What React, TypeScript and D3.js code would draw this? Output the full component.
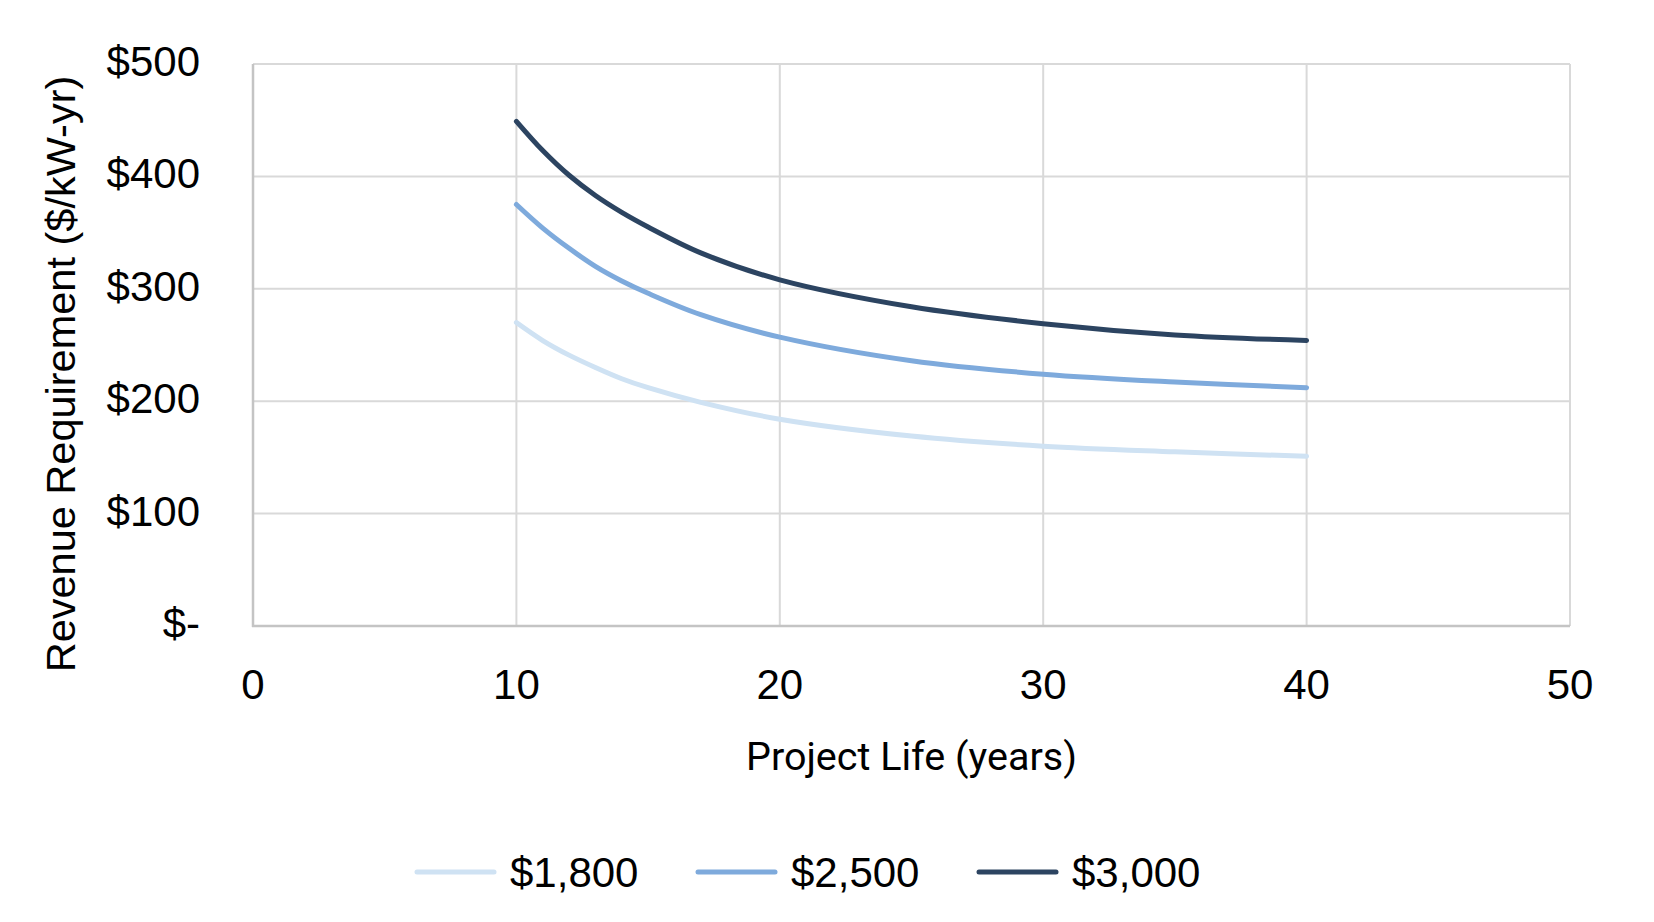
import React, { useEffect, useRef } from 'react';
import * as d3 from 'd3';

// project life in years (x values of the read points)
const years = [10, 11, 12, 13, 14, 15, 17, 20, 25, 30, 35, 40];

// revenue requirement ($/kW-yr) per capital cost case
const rev1800 = [270, 254, 241, 230, 220, 212, 199, 184, 169, 160, 155, 151];
const rev2500 = [375, 354, 336, 320, 307, 296, 277, 257, 236, 224, 217, 212];
const rev3000 = [449, 423, 401, 383, 368, 355, 332, 308, 284, 269, 259, 254];

const seriesNames = ['$1,800', '$2,500', '$3,000'];
const seriesColors = ['#cfe2f3', '#7eaadc', '#2c4461'];

const xTicks = [0, 10, 20, 30, 40, 50];
const yTicks = [0, 100, 200, 300, 400, 500];

const App: React.FC = () => {
  const svgRef = useRef<SVGSVGElement>(null);

  useEffect(() => {
    if (!svgRef.current) return;

    const width = 1654;
    const height = 922;
    const margin = { top: 64, right: 84, bottom: 296, left: 253 };
    const armFont = '"Liberation Sans", Arial, sans-serif';

    const svg = d3.select(svgRef.current)
      .attr('width', width)
      .attr('height', height);
    svg.selectAll('*').remove();

    svg.append('rect').attr('width', width).attr('height', height).attr('fill', '#fff');

    const x = d3.scaleLinear()
      .domain([0, 50])
      .range([margin.left, width - margin.right]);
    const y = d3.scaleLinear()
      .domain([0, 500])
      .range([height - margin.bottom, margin.top]);

    // gridlines
    const grid = svg.append('g').attr('stroke', '#d9d9d9').attr('stroke-width', 2);
    grid.selectAll('line.h')
      .data(yTicks)
      .join('line')
        .attr('class', 'h')
        .attr('x1', x(0)).attr('x2', x(50))
        .attr('y1', d => y(d)).attr('y2', d => y(d));
    grid.selectAll('line.v')
      .data(xTicks)
      .join('line')
        .attr('class', 'v')
        .attr('y1', y(0)).attr('y2', y(500))
        .attr('x1', d => x(d)).attr('x2', d => x(d));

    // axis lines
    svg.append('line')
      .attr('x1', x(0)).attr('x2', x(0)).attr('y1', y(0) + 1).attr('y2', y(500))
      .attr('stroke', '#c4c4c4').attr('stroke-width', 2.5);
    svg.append('line')
      .attr('x1', x(0) - 1).attr('x2', x(50)).attr('y1', y(0)).attr('y2', y(0))
      .attr('stroke', '#c4c4c4').attr('stroke-width', 2.5);

    // tick labels
    svg.append('g')
      .selectAll('text')
      .data(yTicks)
      .join('text')
        .attr('x', 200)
        .attr('y', d => y(d) + 12)
        .attr('text-anchor', 'end')
        .attr('font-family', armFont)
        .attr('font-size', 42)
        .attr('fill', '#000')
        .text(d => (d === 0 ? '$-' : `$${d}`));

    svg.append('g')
      .selectAll('text')
      .data(xTicks)
      .join('text')
        .attr('x', d => x(d))
        .attr('y', 699)
        .attr('text-anchor', 'middle')
        .attr('font-family', armFont)
        .attr('font-size', 42)
        .attr('fill', '#000')
        .text(d => String(d));

    // axis titles
    svg.append('text')
      .attr('transform', 'translate(75,374) rotate(-90)')
      .attr('text-anchor', 'middle')
      .attr('font-family', armFont)
      .attr('font-size', 41.5)
      .attr('fill', '#000')
      .text('Revenue Requirement ($/kW-yr)');

    svg.append('text')
      .attr('x', (x(0) + x(50)) / 2)
      .attr('y', 770)
      .attr('text-anchor', 'middle')
      .attr('font-family', 'Roboto, sans-serif')
      .attr('font-size', 39.5)
      .attr('fill', '#000')
      .text('Project Life (years)');

    // series lines
    const allSeries = [rev1800, rev2500, rev3000];
    const line = d3.line<number>()
      .x((_, i) => x(years[i]))
      .y(d => y(d))
      .curve(d3.curveCatmullRom.alpha(0.5));

    svg.append('g')
      .selectAll('path')
      .data(allSeries)
      .join('path')
        .attr('d', d => line(d))
        .attr('fill', 'none')
        .attr('stroke', (_, i) => seriesColors[i])
        .attr('stroke-width', 5)
        .attr('stroke-linecap', 'round')
        .attr('stroke-linejoin', 'round');

    // legend
    const legend = svg.append('g');
    seriesNames.forEach((name, i) => {
      const x0 = 417 + i * 281;
      legend.append('line')
        .attr('x1', x0).attr('x2', x0 + 77)
        .attr('y1', 872).attr('y2', 872)
        .attr('stroke', seriesColors[i])
        .attr('stroke-width', 5)
        .attr('stroke-linecap', 'round');
      legend.append('text')
        .attr('x', x0 + 93)
        .attr('y', 887)
        .attr('font-family', armFont)
        .attr('font-size', 42)
        .attr('fill', '#000')
        .text(name);
    });
  }, []);

  return (
    <svg ref={svgRef} style={{ position: 'absolute', left: 0, top: 0 }}></svg>
  );
};

export default App;
